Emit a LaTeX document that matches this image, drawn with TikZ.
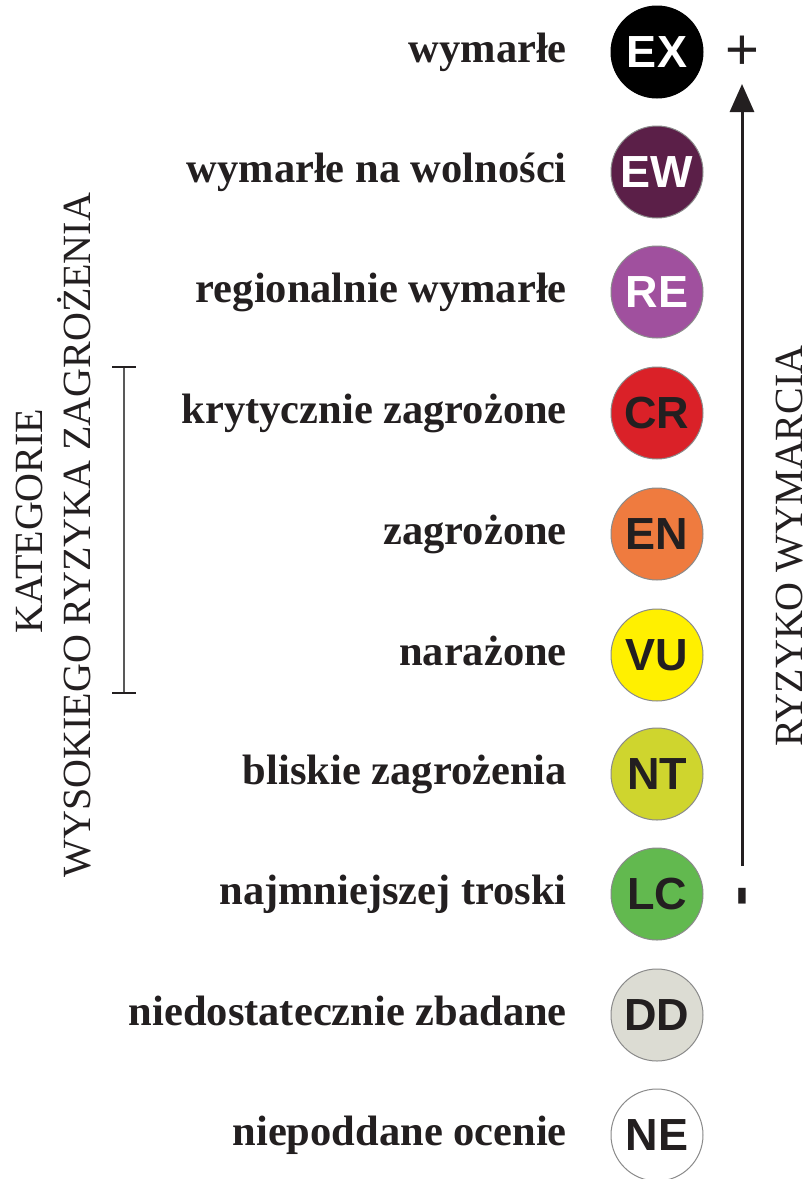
\documentclass[tikz,border=0pt]{standalone}
\usepackage{fontspec}
\setmainfont{Liberation Serif}
\newfontfamily\circfont{Liberation Sans}
\usetikzlibrary{arrows.meta}
\definecolor{txtdark}{HTML}{231F20}
\definecolor{cEX}{HTML}{000000}
\definecolor{cEW}{HTML}{5B1F48}
\definecolor{cRE}{HTML}{A0509E}
\definecolor{cCR}{HTML}{DA2128}
\definecolor{cEN}{HTML}{EF7B3F}
\definecolor{cVU}{HTML}{FFF000}
\definecolor{cNT}{HTML}{CFD52E}
\definecolor{cLC}{HTML}{62B94F}
\definecolor{cDD}{HTML}{DCDCD3}
\definecolor{cNE}{HTML}{FFFFFF}
\definecolor{rimgray}{HTML}{8A8A8A}
\tikzset{
  badge/.style={circle, minimum size=92pt, inner sep=0pt, draw=rimgray, line width=1pt,
    font=\circfont\bfseries\fontsize{45}{45}\selectfont, text=txtdark},
  lightbadge/.style={badge, text=white},
  catlabel/.style={anchor=base east, inner sep=0pt, text=txtdark,
    font=\bfseries\fontsize{42.5}{42.5}\selectfont},
  sidelabel/.style={anchor=base, inner sep=0pt, rotate=90, text=txtdark,
    font=\fontsize{40}{40}\selectfont},
}
\begin{document}
\begin{tikzpicture}[x=1pt,y=-1pt]
\useasboundingbox (0,0) rectangle (811,1179);
\fill[white] (0,0) rectangle (811,1179);
% badges
\node[lightbadge, fill=cEX, draw=black] (EX) at (657,52) {EX};
\node[lightbadge, fill=cEW] (EW) at (657,172) {EW};
\node[lightbadge, fill=cRE] (RE) at (657,292) {RE};
\node[badge, fill=cCR] (CR) at (657,413) {CR};
\node[badge, fill=cEN] (EN) at (657,534) {EN};
\node[badge, fill=cVU] (VU) at (657,655) {VU};
\node[badge, fill=cNT] (NT) at (657,774) {NT};
\node[badge, fill=cLC] (LC) at (657,894) {LC};
\node[badge, fill=cDD] (DD) at (657,1015) {DD};
\node[badge, fill=cNE] (NE) at (657,1135) {NE};
% labels
\node[catlabel] (lEX) at (567,62) {wymarłe};
\node[catlabel] (lEW) at (567,182) {wymarłe na wolności};
\node[catlabel] (lRE) at (567,302) {regionalnie wymarłe};
\node[catlabel] (lCR) at (567,423) {krytycznie zagrożone};
\node[catlabel] (lEN) at (567,544) {zagrożone};
\node[catlabel] (lVU) at (567,665) {narażone};
\node[catlabel] (lNT) at (567,784) {bliskie zagrożenia};
\node[catlabel] (lLC) at (567,904) {najmniejszej troski};
\node[catlabel] (lDD) at (567,1025) {niedostatecznie zbadane};
\node[catlabel] (lNE) at (567,1145) {niepoddane ocenie};
% risk arrow
\coordinate (arrowlow) at (742,866);
\coordinate (arrowhigh) at (742,84);
\draw[line width=3pt, txtdark, -{Triangle[width=24pt,length=28pt]}] (arrowlow) -- (arrowhigh);
\node[inner sep=0pt, text=txtdark, font=\circfont\fontsize{58}{58}\selectfont] (plus) at (742,53) {+};
\node[inner sep=0pt, text=txtdark, rotate=90, font=\circfont\bfseries\fontsize{62}{62}\selectfont] (minus) at (749,896) {-};
\node[sidelabel] (risk) at (802,546) {RYZYKO WYMARCIA};
% high-risk bracket
\coordinate (brtop) at (124,367);
\coordinate (brbot) at (124,693);
\draw[line width=2.5pt, black!65] (brtop) -- (brbot);
\draw[line width=2.5pt, txtdark] ([xshift=-12pt]brtop) -- ([xshift=12pt]brtop);
\draw[line width=2.5pt, txtdark] ([xshift=-12pt]brbot) -- ([xshift=12pt]brbot);
\node[sidelabel] (kat1) at (42,521) {KATEGORIE};
\node[sidelabel] (kat2) at (90,535) {WYSOKIEGO RYZYKA ZAGROŻENIA};
\end{tikzpicture}
\end{document}
